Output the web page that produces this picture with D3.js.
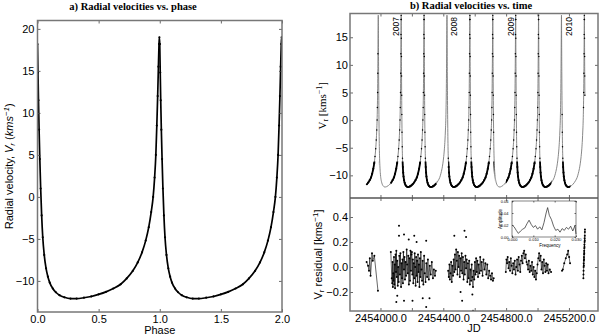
<!DOCTYPE html>
<html>
<head>
<meta charset="utf-8">
<title>Radial velocities</title>
<style>
  body { margin: 0; background: #fff; }
  svg text { font-family: 'Liberation Sans', Arial, sans-serif; fill: #000; }
  svg .serif { font-family: 'Liberation Serif', 'Times New Roman', serif; }
</style>
</head>
<body>
<div id="chart"></div>
<script src="https://cdn.jsdelivr.net/npm/d3@7"></script>
<script>
// phase-folded velocity curve read off panel a) : [phase, km/s]
var phaseCurve = [
  [0.000, 18.2], [0.004, 14.8], [0.008, 11.5], [0.013, 8.0], [0.019, 4.5],
  [0.026, 1.0], [0.034, -2.2], [0.043, -4.8], [0.055, -6.9], [0.070, -8.5],
  [0.085, -9.5], [0.100, -10.2], [0.125, -10.9], [0.150, -11.35], [0.180, -11.7],
  [0.220, -11.95], [0.270, -12.1], [0.320, -12.1], [0.380, -12.0], [0.440, -11.85],
  [0.500, -11.6], [0.560, -11.3], [0.620, -10.9], [0.680, -10.4], [0.730, -9.7],
  [0.780, -8.8], [0.820, -7.8], [0.855, -6.6], [0.885, -5.2], [0.910, -3.6],
  [0.930, -1.8], [0.946, 0.0], [0.958, 2.3], [0.968, 5.0], [0.976, 8.5],
  [0.983, 12.0], [0.989, 15.5], [0.994, 18.2], [0.997, 19.0], [1.000, 18.2]
];
var period = 145.8;        // days
var peakJD = 3986;         // HJD - 2450000 of first maximum
var peakPhase = 0.997;

// residuals per observing season : [HJD - 2450000, km/s]
var resA = [[3912,0.04],[3921,0.01],[3927,-0.03],[3932,0.07],[3937,-0.07],[3946,0.11],[3951,0.05],[3961,0.09],[3984,-0.19]];
var resB = [[4066,0.12],[4072,-0.09],[4075,-0.13],[4077,0.04],[4079,-0.16],[4081,-0.05],[4083,-0.11],[4086,0.08],[4088,-0.14],[4091,0.02],
  [4093,-0.17],[4096,0.10],[4099,-0.04],[4101,0.13],[4104,-0.08],[4107,0.05],[4110,-0.15],[4113,0.00],[4116,-0.12],[4120,0.09],
  [4124,-0.06],[4127,0.11],[4131,-0.16],[4134,0.03],[4137,-0.09],[4140,0.06],[4143,-0.13],[4146,0.12],[4150,-0.02],[4153,0.08],
  [4156,-0.10],[4160,0.04],[4163,-0.07],[4167,0.14],[4170,0.02],[4174,-0.05],[4177,0.09],[4181,-0.14],[4184,0.07],[4188,-0.11],
  [4191,0.13],[4194,-0.03],[4197,0.10],[4200,0.12],[4203,-0.06],[4206,0.06],[4209,-0.13],[4212,0.03],[4215,-0.09],[4218,0.11],
  [4221,0.00],[4224,-0.15],[4227,0.08],[4230,-0.07],[4233,0.05],[4236,-0.12],[4239,0.10],[4242,-0.04],[4245,0.02],[4248,-0.16],
  [4251,0.07],[4254,-0.08],[4257,0.12],[4261,-0.02],[4265,-0.11],[4269,0.05],[4273,-0.14],[4278,0.09],[4282,-0.05],[4287,-0.12],
  [4292,0.03],[4297,-0.08],[4302,0.06],[4308,-0.10],[4314,0.01],[4320,-0.06],[4327,0.04],[4334,-0.09],[4340,-0.02],[4347,-0.07],[4352,-0.03]];
var resC = [[4431,-0.03],[4435,-0.08],[4439,0.02],[4442,-0.10],[4446,-0.05],[4450,0.04],[4454,-0.12],[4458,0.01],[4462,-0.07],[4466,0.06],
  [4470,-0.04],[4474,0.10],[4478,-0.02],[4482,0.14],[4486,0.05],[4490,-0.06],[4493,0.12],[4497,0.00],[4501,0.09],[4505,-0.08],
  [4509,0.07],[4513,-0.03],[4517,0.11],[4521,-0.05],[4525,0.08],[4529,-0.10],[4533,0.04],[4537,-0.06],[4541,0.09],[4545,-0.01],
  [4549,0.06],[4553,-0.12],[4557,0.03],[4561,-0.09],[4565,0.05],[4569,-0.14],[4573,-0.02],[4577,-0.11],[4581,0.02],[4585,-0.08],
  [4589,-0.16],[4593,-0.03],[4597,-0.10],[4601,0.04],[4605,-0.06],[4609,0.07],[4613,-0.04],[4617,0.05],[4621,-0.08],[4625,0.02],
  [4630,-0.05],[4635,0.08],[4640,-0.03],[4645,0.04],[4650,-0.07],[4656,0.06],[4662,-0.02],[4668,0.03],[4674,-0.06],[4680,0.02],
  [4686,-0.09],[4692,-0.03],[4698,-0.07],[4704,-0.10],[4710,-0.05],[4716,-0.11],[4721,-0.09]];
var resD = [[4798,-0.04],[4802,0.06],[4806,0.03],[4810,0.08],[4815,-0.01],[4820,0.04],[4825,-0.03],[4830,0.07],[4835,0.01],[4840,-0.05],
  [4845,0.03],[4850,-0.02],[4855,0.05],[4860,-0.06],[4865,0.00],[4870,0.06],[4875,-0.03],[4880,0.08],[4885,0.02],[4890,-0.04],
  [4895,0.05],[4900,0.09],[4905,0.03],[4910,0.11],[4915,0.13],[4920,0.07],[4925,0.10],[4930,0.04],[4935,0.02],[4940,-0.02],
  [4945,0.05],[4950,-0.04],[4955,0.01],[4960,-0.03],[4965,0.04],[4970,-0.06],[4975,0.00],[4980,-0.08],[4985,-0.03],[4990,-0.10],
  [4995,-0.05],[5000,0.02],[5005,0.07],[5010,0.11],[5015,0.05],[5020,0.09],[5025,-0.02],[5030,0.04],[5035,-0.05],[5040,0.06],
  [5045,0.01],[5050,-0.04],[5055,0.03],[5060,-0.03],[5065,0.02],[5070,-0.05],[5078,-0.02],[5086,-0.04]];
var resE = [[5156,-0.03],[5161,-0.02],[5170,0.03],[5180,0.07],[5189,0.10],[5195,0.13],[5201,0.08],[5207,0.03]];
var resF = [[5292,-0.09],[5292.5,-0.06],[5293,-0.03],[5293.5,0.00],[5294,0.03],[5294.5,0.01],[5295,0.05],[5295.5,0.08],[5296,0.06],
  [5296.5,0.10],[5297,0.13],[5297.5,0.11],[5298,0.15],[5298.5,0.18],[5299,0.16],[5299.5,0.20],[5300,0.23],[5300.5,0.21],[5301,0.25],
  [5301.5,0.28],[5302,0.30]];
var seasons = [resA, resB, resC, resD, resE, resF];
// isolated points (no connecting line)
var outliers = [[4101,-0.28],[4107,-0.23],[4118,0.33],[4118,0.25],[4150,0.26],[4150,-0.27],[4180,0.22],[4204,-0.27],[4215,0.25],
  [4230,0.20],[4269,-0.25],[4291,0.21],[4291,-0.32],[4312,-0.25],[4470,0.25],[4510,-0.20],[4520,-0.27],[4535,0.29],[4545,0.24],
  [4585,-0.22],[4589,-0.35]];

// periodogram of the residuals (inset)
var freq  = [0.0000,0.0010,0.0020,0.0030,0.0040,0.0050,0.0060,0.0070,0.0080,0.0090,0.0100,0.0110,0.0120,0.0130,0.0140,0.0150,
             0.0160,0.0167,0.0175,0.0185,0.0195,0.0205,0.0215,0.0225,0.0235,0.0245,0.0255,0.0265,0.0275,0.0285,0.0295,0.0300];
var ampl  = [0.020,0.017,0.011,0.006,0.010,0.013,0.015,0.022,0.028,0.021,0.016,0.019,0.013,0.017,0.012,0.024,
             0.040,0.049,0.036,0.029,0.018,0.011,0.013,0.008,0.014,0.011,0.016,0.013,0.018,0.010,0.019,0.005];

var years   = ["2007", "2008", "2009", "2010"];
var yearJD  = [4101.5, 4466.5, 4831.5, 5197.5];

var phaseTicks = [0, 0.5, 1, 1.5, 2];
var velTicksA  = [-10, -5, 0, 5, 10, 15, 20];
var velTicksB  = [-10, -5, 0, 5, 10, 15];
var resTicks   = [-0.2, 0.0, 0.2, 0.4];
var jdTicks    = [4000, 4200, 4400, 4600, 4800, 5000, 5200];
var jdLabels   = [4000, 4400, 4800, 5200];
var fTicks     = [0, 0.01, 0.02, 0.03];
var aTicks     = [0, 0.02, 0.04, 0.06];

// ---------- layout ----------
var W = 600, H = 335;
var pa = {l: 37.5, r: 282, t: 20.5, b: 312};
var pb = {l: 350, r: 598, t: 13.5, m: 198, b: 311};
var ins = {l: 512, r: 576, t: 201, b: 237};

var xPh  = d3.scaleLinear().domain([0, 2]).range([pa.l, pa.r]);
var yPh  = d3.scaleLinear().domain([-13.7, 21]).range([pa.b, pa.t]);
var xJD  = d3.scaleLinear().domain([3806, 5385]).range([pb.l, pb.r]);
var yV   = d3.scaleLinear().domain([-14.1, 19.3]).range([pb.m, pb.t]);
var yR   = d3.scaleLinear().domain([-0.352, 0.552]).range([pb.b, pb.m]);
var xF   = d3.scaleLinear().domain([0, 0.03]).range([ins.l, ins.r]);
var yA   = d3.scaleLinear().domain([0, 0.06]).range([ins.b, ins.t]);

var svg = d3.select("#chart").append("svg").attr("width", W).attr("height", H);
var defs = svg.append("defs");

function clipRect(id, x0, y0, x1, y1) {
  defs.append("clipPath").attr("id", id).append("rect")
    .attr("x", x0).attr("y", y0).attr("width", x1 - x0).attr("height", y1 - y0);
}
clipRect("clipA", pa.l, pa.t, pa.r, pa.b);
clipRect("clipB", pb.l, pb.t, pb.r, pb.m);
clipRect("clipC", pb.l, pb.m, pb.r, pb.b);

// tick helper: inward ticks, optional labels
function ticks(axisFn, scale, vals, tx, ty, len, fmt, fs, pad) {
  var ax = axisFn(scale).tickValues(vals).tickSizeInner(-len).tickSizeOuter(0)
    .tickPadding(pad == null ? 3 : pad).tickFormat(fmt || "");
  var g = svg.append("g").attr("transform", "translate(" + tx + "," + ty + ")").call(ax);
  g.select(".domain").remove();
  g.selectAll(".tick line").attr("stroke", "#444").attr("stroke-width", 0.8);
  g.selectAll("text").attr("font-family", null).attr("font-size", fs || 11);
  return g;
}

// ---------- panel a ----------
var line = d3.line().curve(d3.curveMonotoneX);
var ga = svg.append("g").attr("clip-path", "url(#clipA)");
[0, 1].forEach(function (c) {
  var pts = phaseCurve.map(function (d) { return [xPh(d[0] + c), yPh(d[1])]; });
  ga.append("path").attr("d", line(pts)).attr("fill", "none")
    .attr("stroke", "#000").attr("stroke-width", 1.7);
  ga.selectAll(null).data(pts).enter().append("circle")
    .attr("cx", function (d) { return d[0]; }).attr("cy", function (d) { return d[1]; })
    .attr("r", 1.1).attr("fill", "#000");
});

var f1 = d3.format(".1f"), f0 = d3.format("d");
ticks(d3.axisBottom, xPh, phaseTicks, 0, pa.b, 3, f1);
ticks(d3.axisTop, xPh, phaseTicks, 0, pa.t, 3);
ticks(d3.axisLeft, yPh, velTicksA, pa.l, 0, 3, f0);
ticks(d3.axisRight, yPh, velTicksA, pa.r, 0, 3);
svg.append("rect").attr("x", pa.l).attr("y", pa.t).attr("width", pa.r - pa.l).attr("height", pa.b - pa.t)
  .attr("fill", "none").attr("stroke", "#777").attr("stroke-width", 1.5);

svg.append("text").attr("class", "serif").attr("x", 133).attr("y", 10).attr("text-anchor", "middle")
  .attr("font-size", 10.5).attr("font-weight", "bold").text("a) Radial velocities vs. phase");
svg.append("text").attr("x", (pa.l + pa.r) / 2).attr("y", 333.5).attr("text-anchor", "middle")
  .attr("font-size", 11).text("Phase");
var la = svg.append("text").attr("transform", "translate(12.5," + ((pa.t + pa.b) / 2) + ") rotate(-90)")
  .attr("text-anchor", "middle").attr("font-size", 11);
la.append("tspan").text("Radial velocity, ");
la.append("tspan").attr("font-style", "italic").text("V");
la.append("tspan").attr("font-style", "italic").attr("font-size", 8).attr("dy", 2).text("r");
la.append("tspan").attr("dy", -2).text(" (");
la.append("tspan").attr("font-style", "italic").text("kms");
la.append("tspan").attr("font-style", "italic").attr("font-size", 8).attr("dy", -4).text("\u22121");
la.append("tspan").attr("dy", 4).text(")");

// ---------- panel b, top: velocity vs time ----------
var t0 = peakJD - peakPhase * period;
var first = resA[0][0], last = resF[resF.length - 1][0];
var model = [];
d3.range(-1, 11).forEach(function (n) {
  phaseCurve.forEach(function (d) {
    if (d[0] >= 1) return;
    var t = t0 + (n + d[0]) * period;
    if (t >= first && t <= last) model.push([t, d[1]]);
  });
});
var windows = seasons.map(function (s) { return d3.extent(s, function (d) { return d[0]; }); });
// dense observations show as a thick black trace in the slow part of the orbit
var denseBelow = -7.5;
windows.forEach(function (w, i) {
  clipRect("win" + i, xJD(w[0]), yV(denseBelow), xJD(w[1]) + 0.5, pb.m);
});

var gb = svg.append("g").attr("clip-path", "url(#clipB)");
var mPts = model.map(function (d) { return [xJD(d[0]), yV(d[1])]; });
gb.append("path").attr("d", line(mPts)).attr("fill", "none")
  .attr("stroke", "#7a7a7a").attr("stroke-width", 0.9);
windows.forEach(function (w, i) {
  gb.append("g").attr("clip-path", "url(#win" + i + ")").append("path").attr("d", line(mPts))
    .attr("fill", "none").attr("stroke", "#000").attr("stroke-width", 1.8);
});
var obs = model.filter(function (d) {
  return windows.some(function (w) { return d[0] >= w[0] && d[0] <= w[1]; });
});
gb.selectAll(null).data(obs).enter().append("circle")
  .attr("cx", function (d) { return xJD(d[0]); }).attr("cy", function (d) { return yV(d[1]); })
  .attr("r", function (d) { return d[1] < denseBelow ? 1.05 : 0.75; }).attr("fill", "#000");

yearJD.forEach(function (t, i) {
  svg.append("text").attr("transform", "translate(" + xJD(t) + ",17) rotate(-90)")
    .attr("text-anchor", "end").attr("dy", "0.35em").attr("font-size", 8.5).text(years[i]);
});

ticks(d3.axisLeft, yV, velTicksB, pb.l, 0, 3, f0, 11, 2);
ticks(d3.axisRight, yV, velTicksB, pb.r, 0, 3);
ticks(d3.axisTop, xJD, jdTicks, 0, pb.t, 3);
ticks(d3.axisBottom, xJD, jdTicks, 0, pb.m, -3);

var lb = svg.append("text").attr("class", "serif")
  .attr("transform", "translate(326," + ((pb.t + pb.m) / 2) + ") rotate(-90)")
  .attr("text-anchor", "middle").attr("font-size", 11);
lb.append("tspan").text("V");
lb.append("tspan").attr("font-size", 8).attr("dy", 2).text("r");
lb.append("tspan").attr("dy", -2).text(" [kms");
lb.append("tspan").attr("font-size", 8).attr("dy", -4).text("\u22121");
lb.append("tspan").attr("dy", 4).text("]");

// ---------- panel b, bottom: residuals ----------
var gc = svg.append("g").attr("clip-path", "url(#clipC)");
var rline = d3.line().x(function (d) { return xJD(d[0]); }).y(function (d) { return yR(d[1]); });
seasons.forEach(function (s) {
  gc.append("path").attr("d", rline(s)).attr("fill", "none").attr("stroke", "#000").attr("stroke-width", 0.6);
  gc.selectAll(null).data(s).enter().append("circle")
    .attr("cx", function (d) { return xJD(d[0]); }).attr("cy", function (d) { return yR(d[1]); })
    .attr("r", 1).attr("fill", "#000");
});
gc.selectAll(null).data(outliers).enter().append("circle")
  .attr("cx", function (d) { return xJD(d[0]); }).attr("cy", function (d) { return yR(d[1]); })
  .attr("r", 1).attr("fill", "#000");

ticks(d3.axisLeft, yR, resTicks, pb.l, 0, 3, f1, 11, 2);
ticks(d3.axisRight, yR, resTicks, pb.r, 0, 3);
ticks(d3.axisTop, xJD, jdTicks, 0, pb.m, -3);
ticks(d3.axisBottom, xJD, jdTicks, 0, pb.b, 3, function (d) {
  return jdLabels.indexOf(d) >= 0 ? f1(d + 2450000) : "";
});

svg.append("text").attr("x", (pb.l + pb.r) / 2).attr("y", 332).attr("text-anchor", "middle")
  .attr("font-size", 11).text("JD");
var lc = svg.append("text").attr("transform", "translate(321.5," + ((pb.m + pb.b) / 2) + ") rotate(-90)")
  .attr("text-anchor", "middle").attr("font-size", 11);
lc.append("tspan").text("V");
lc.append("tspan").attr("font-size", 8).attr("dy", 2).text("r");
lc.append("tspan").attr("dy", -2).text(" residual [kms");
lc.append("tspan").attr("font-size", 8).attr("dy", -4).text("\u22121");
lc.append("tspan").attr("dy", 4).text("]");

// frame of panel b + divider
svg.append("rect").attr("x", pb.l).attr("y", pb.t).attr("width", pb.r - pb.l).attr("height", pb.b - pb.t)
  .attr("fill", "none").attr("stroke", "#777").attr("stroke-width", 1.5);
svg.append("line").attr("x1", pb.l).attr("x2", pb.r).attr("y1", pb.m).attr("y2", pb.m)
  .attr("stroke", "#555").attr("stroke-width", 1.3);

svg.append("text").attr("class", "serif").attr("x", 471).attr("y", 8.5).attr("text-anchor", "middle")
  .attr("font-size", 10.5).attr("font-weight", "bold").text("b) Radial velocities vs. time");

// ---------- inset periodogram ----------
svg.append("rect").attr("x", ins.l).attr("y", ins.t).attr("width", ins.r - ins.l).attr("height", ins.b - ins.t)
  .attr("fill", "#fff");
var pg = freq.map(function (f, i) { return [xF(f), yA(ampl[i])]; });
svg.append("path").attr("d", d3.line()(pg)).attr("fill", "none").attr("stroke", "#222").attr("stroke-width", 0.7);
var fi = d3.format(".3f"), fa = d3.format(".2f");
ticks(d3.axisBottom, xF, fTicks, 0, ins.b, 1.5, fi, 4, 1);
ticks(d3.axisTop, xF, fTicks, 0, ins.t, 1.5);
ticks(d3.axisLeft, yA, aTicks, ins.l, 0, 1.5, fa, 4, 3.5);
ticks(d3.axisRight, yA, aTicks, ins.r, 0, 1.5);
svg.append("rect").attr("x", ins.l).attr("y", ins.t).attr("width", ins.r - ins.l).attr("height", ins.b - ins.t)
  .attr("fill", "none").attr("stroke", "#333").attr("stroke-width", 0.6);
svg.append("text").attr("x", 550).attr("y", 246.5).attr("text-anchor", "middle")
  .attr("font-size", 4.5).text("Frequency");
svg.append("text").attr("transform", "translate(502," + ((ins.t + ins.b) / 2) + ") rotate(-90)")
  .attr("text-anchor", "middle").attr("font-size", 4.5).text("Amplitude");
</script>
</body>
</html>
